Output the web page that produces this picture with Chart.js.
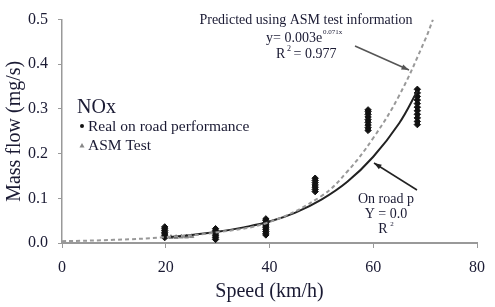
<!DOCTYPE html>
<html>
<head>
<meta charset="utf-8">
<script src="https://cdn.jsdelivr.net/npm/chart.js@4"></script>
<style>
  body { margin: 0; background: #fff; }
  #wrap { width: 495px; height: 307px; position: relative; }
</style>
</head>
<body>
<div id="wrap"><canvas id="myChart"></canvas></div>
<script>
// real on road performance, one list of flows per speed cluster
const roadSpeeds = [19.8, 29.6, 39.3, 48.8, 59.0, 68.5];
const roadFlows = [
  [0.012, 0.016, 0.020, 0.024, 0.028, 0.032, 0.036],
  [0.008, 0.012, 0.016, 0.020, 0.024, 0.028, 0.032],
  [0.018, 0.022, 0.026, 0.030, 0.034, 0.038, 0.042, 0.046, 0.050, 0.054],
  [0.115, 0.120, 0.125, 0.130, 0.135, 0.140, 0.145],
  [0.252, 0.258, 0.264, 0.270, 0.276, 0.282, 0.288, 0.294, 0.298],
  [0.265, 0.272, 0.280, 0.288, 0.296, 0.304, 0.312, 0.320, 0.328, 0.336, 0.344]
];

// ASM test points
const asmSpeeds = [21, 22, 23, 24, 25];
const asmFlows = [0.013, 0.013, 0.014, 0.014, 0.015];

// on road fit (solid)
const fitSpeeds = [20, 25, 30, 35, 40, 45, 50, 55, 60, 65, 68.5];
const fitFlows = [0.013, 0.018, 0.025, 0.035, 0.048, 0.068, 0.097, 0.137, 0.193, 0.268, 0.340];

// predicted using ASM (dashed)
const predSpeeds = [0, 10, 20, 30, 40, 50, 55, 60, 65, 70, 71.5];
const predFlows = [0.004, 0.007, 0.013, 0.024, 0.047, 0.105, 0.160, 0.235, 0.330, 0.455, 0.500];

const xTicks = [0, 20, 40, 60, 80];
const yTicks = [0, 0.1, 0.2, 0.3, 0.4, 0.5];

const textColor = '#1a1a33';
const serif = '"Liberation Serif", "DejaVu Serif", serif';

const roadPoints = [];
roadSpeeds.forEach((s, i) => {
  roadFlows[i].forEach(v => roadPoints.push({x: s, y: v}));
});
const asmPoints = asmSpeeds.map((s, i) => ({x: s, y: asmFlows[i]}));
const fitPoints = fitSpeeds.map((s, i) => ({x: s, y: fitFlows[i]}));
const predPoints = predSpeeds.map((s, i) => ({x: s, y: predFlows[i]}));

function arrow(ctx, x1, y1, x2, y2, color) {
  ctx.save();
  ctx.strokeStyle = color;
  ctx.fillStyle = color;
  ctx.lineWidth = 1.5;
  ctx.beginPath();
  ctx.moveTo(x1, y1);
  ctx.lineTo(x2, y2);
  ctx.stroke();
  const a = Math.atan2(y2 - y1, x2 - x1);
  ctx.beginPath();
  ctx.moveTo(x2, y2);
  ctx.lineTo(x2 - 8 * Math.cos(a - 0.35), y2 - 8 * Math.sin(a - 0.35));
  ctx.lineTo(x2 - 8 * Math.cos(a + 0.35), y2 - 8 * Math.sin(a + 0.35));
  ctx.closePath();
  ctx.fill();
  ctx.restore();
}

const notes = {
  id: 'notes',
  afterDraw(chart) {
    const ctx = chart.ctx;
    ctx.save();
    ctx.fillStyle = textColor;
    ctx.textBaseline = 'middle';

    // predicted annotation
    ctx.textAlign = 'center';
    ctx.font = '14px ' + serif;
    ctx.fillText('Predicted using ASM test information', 306, 20);
    ctx.textAlign = 'left';
    ctx.fillText('y= 0.003e', 266, 38);
    const w = ctx.measureText('y= 0.003e').width;
    ctx.font = '7px ' + serif;
    ctx.fillText('0.071x', 266 + w + 1, 32);
    ctx.font = '14px ' + serif;
    ctx.fillText('R', 276, 54);
    ctx.font = '8px ' + serif;
    ctx.fillText('2', 287, 49);
    ctx.font = '14px ' + serif;
    ctx.fillText(' = 0.977', 290, 54);
    arrow(ctx, 355, 46, 409, 70, '#555');

    // on road annotation (cut off in the original)
    ctx.textAlign = 'center';
    ctx.fillText('On road p', 386, 199);
    ctx.fillText('Y = 0.0', 386, 214);
    ctx.fillText('R', 383, 229);
    ctx.font = '7px ' + serif;
    ctx.fillText('2', 392, 224);
    arrow(ctx, 417, 190, 374, 163, '#222');

    // legend
    ctx.textAlign = 'left';
    ctx.font = '20px ' + serif;
    ctx.fillText('NOx', 77, 108);
    ctx.font = '15.5px ' + serif;
    ctx.fillText('Real on road performance', 88, 127);
    ctx.fillText('ASM Test', 88, 146);
    ctx.fillStyle = '#111';
    ctx.beginPath();
    ctx.arc(82, 126, 2, 0, Math.PI * 2);
    ctx.fill();
    ctx.fillStyle = '#888';
    ctx.beginPath();
    ctx.moveTo(82, 143);
    ctx.lineTo(84.5, 147.5);
    ctx.lineTo(79.5, 147.5);
    ctx.closePath();
    ctx.fill();
    ctx.restore();
  }
};

new Chart(document.getElementById('myChart'), {
  type: 'scatter',
  data: {
    datasets: [
      {
        label: 'Predicted using ASM test information',
        type: 'line',
        data: predPoints,
        borderColor: '#999',
        borderWidth: 2,
        borderDash: [4, 3],
        pointRadius: 0,
        tension: 0.4,
        fill: false
      },
      {
        label: 'On road',
        type: 'line',
        data: fitPoints,
        borderColor: '#222',
        borderWidth: 2,
        pointRadius: 0,
        tension: 0.4,
        fill: false
      },
      {
        label: 'ASM Test',
        data: asmPoints,
        pointStyle: 'triangle',
        pointRadius: 2.5,
        backgroundColor: '#888',
        borderColor: '#888'
      },
      {
        label: 'Real on road performance',
        data: roadPoints,
        pointStyle: 'rectRot',
        pointRadius: 3.2,
        backgroundColor: '#111',
        borderColor: '#111',
        borderWidth: 1
      }
    ]
  },
  options: {
    responsive: true,
    maintainAspectRatio: false,
    animation: false,
    layout: { padding: { top: 5, right: 15, left: 0, bottom: 0 } },
    plugins: {
      legend: { display: false },
      tooltip: { enabled: false }
    },
    scales: {
      x: {
        type: 'linear',
        min: 0,
        max: 80,
        afterFit: s => { s.height = 64; },
        afterBuildTicks: s => { s.ticks = xTicks.map(v => ({value: v})); },
        ticks: {
          color: textColor,
          font: { family: serif, size: 16 },
          padding: 10,
          maxRotation: 0
        },
        grid: {
          drawOnChartArea: false,
          drawTicks: true,
          tickLength: 5,
          color: '#999'
        },
        border: { color: '#999', width: 2 },
        title: {
          display: true,
          text: 'Speed (km/h)',
          color: textColor,
          font: { family: serif, size: 20 },
          padding: { top: 0, bottom: 3 }
        }
      },
      y: {
        type: 'linear',
        min: 0,
        max: 0.5,
        afterFit: s => { s.width = 62; },
        afterBuildTicks: s => { s.ticks = yTicks.map(v => ({value: v})); },
        ticks: {
          color: textColor,
          font: { family: serif, size: 16 },
          padding: 10,
          callback: v => v.toFixed(1)
        },
        grid: {
          drawOnChartArea: false,
          drawTicks: true,
          tickLength: 4,
          color: '#999'
        },
        border: { color: '#999', width: 1.5 },
        title: {
          display: true,
          text: 'Mass flow (mg/s)',
          color: textColor,
          font: { family: serif, size: 20 },
          padding: { top: 3, bottom: 0 }
        }
      }
    }
  },
  plugins: [notes]
});
</script>
</body>
</html>
